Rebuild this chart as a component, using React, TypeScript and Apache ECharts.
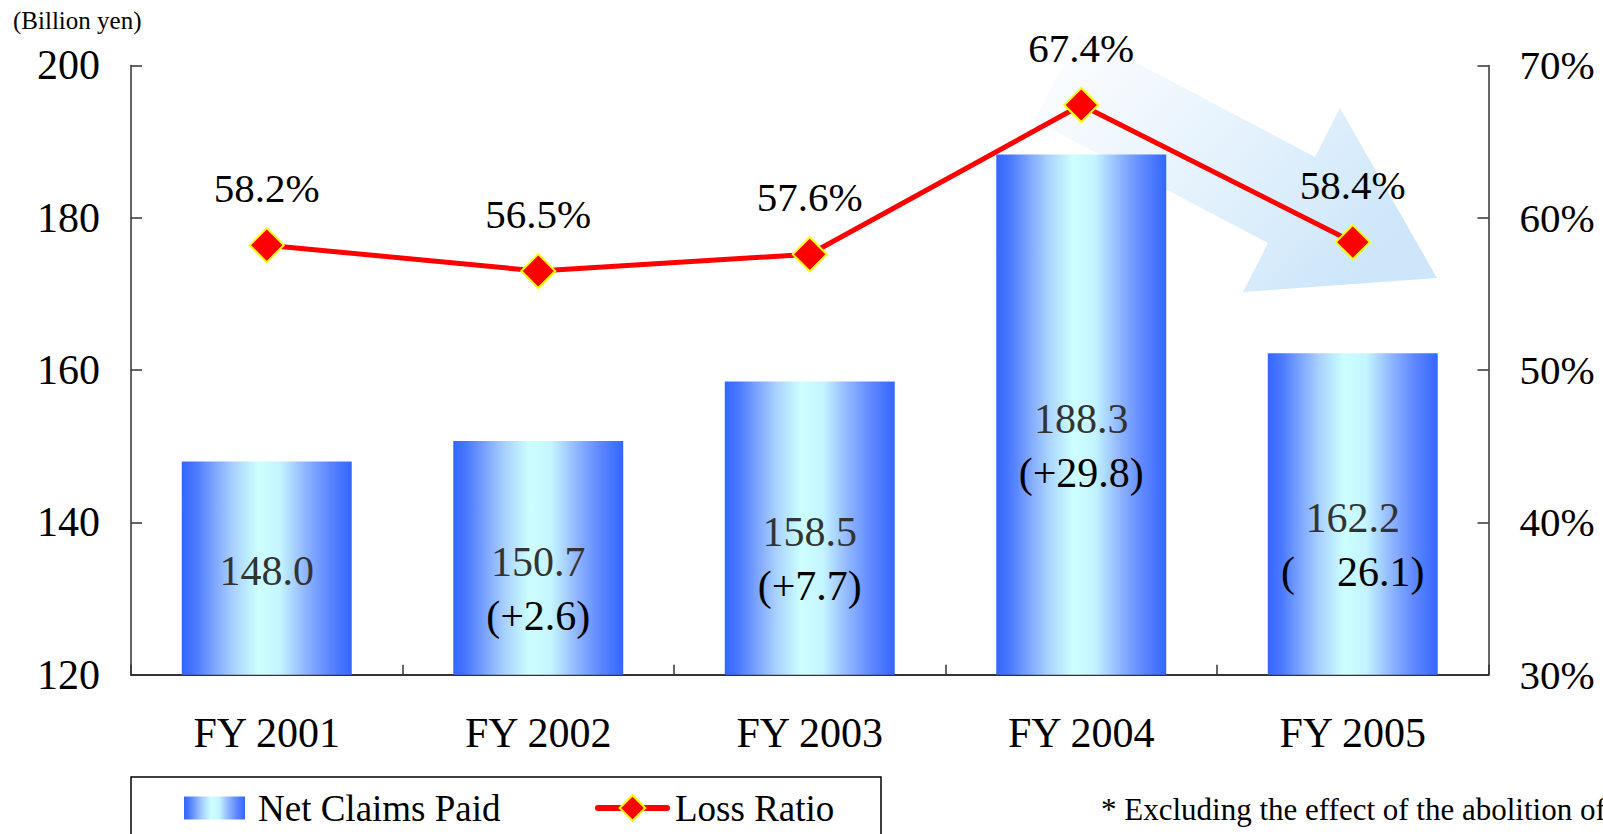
import React, { useEffect, useRef } from "react";
import * as echarts from "echarts";

const categories = ["FY 2001", "FY 2002", "FY 2003", "FY 2004", "FY 2005"];
const netClaimsPaid = [148.0, 150.7, 158.5, 188.3, 162.2];
const changeLabels = ["", "(+2.6)", "(+7.7)", "(+29.8)", "(\u00a0\u00a0\u00a0\u00a026.1)"];
const lossRatio = [58.2, 56.5, 57.6, 67.4, 58.4];
const leftAxis = { min: 120, max: 200, interval: 20 };
const rightAxis = { min: 30, max: 70, interval: 10 };
const unitLabel = "(Billion yen)";
const footnote = "* Excluding the effect of the abolition of";

const FONT = '"Liberation Serif", "Times New Roman", serif';

export default function App() {
  const ref = useRef<HTMLDivElement>(null);

  useEffect(() => {
    if (!ref.current) return;
    const chart = echarts.init(ref.current, null, { renderer: "svg" });

    const barGradient = {
      type: "linear",
      x: 0,
      y: 0,
      x2: 1,
      y2: 0,
      colorStops: [
        { offset: 0, color: "#3366ff" },
        { offset: 0.08, color: "#4a78ff" },
        { offset: 0.18, color: "#77a0ff" },
        { offset: 0.3, color: "#a8d0ff" },
        { offset: 0.45, color: "#ccffff" },
        { offset: 0.58, color: "#c4f4ff" },
        { offset: 0.72, color: "#92b8ff" },
        { offset: 0.86, color: "#5f88ff" },
        { offset: 1, color: "#3366ff" },
      ],
    };

    const legendText = {
      fontFamily: FONT,
      fontSize: 37,
      lineHeight: 40,
      color: "#000",
    };

    const option: any = {
      animation: false,
      backgroundColor: "#ffffff",
      grid: {
        left: 131,
        right: 114.5,
        top: 65.4,
        bottom: 159.3,
        containLabel: false,
        outerBoundsMode: "none",
      },
      legend: [
        {
          left: 184,
          top: 788,
          padding: 0,
          itemWidth: 61,
          itemHeight: 23,
          textStyle: { ...legendText, padding: [0, 0, 0, 8] },
          data: [{ name: "Net Claims Paid", icon: "rect" }],
        },
        {
          left: 595,
          top: 788,
          padding: 0,
          itemWidth: 69,
          itemHeight: 32,
          lineStyle: { width: 6, color: "#ff0000", cap: "round" },
          textStyle: { ...legendText, padding: [0, 0, 0, 3] },
          data: [{ name: "Loss Ratio" }],
        },
      ],
      xAxis: {
        type: "category",
        data: categories,
        boundaryGap: true,
        axisLine: { show: true, lineStyle: { color: "#333", width: 2 } },
        axisTick: { show: true, inside: true, length: 10, lineStyle: { color: "#333", width: 1.5 } },
        axisLabel: { fontFamily: FONT, fontSize: 42, color: "#000", margin: 37 },
        splitLine: { show: false },
      },
      yAxis: [
        {
          type: "value",
          position: "left",
          min: leftAxis.min,
          max: leftAxis.max,
          interval: leftAxis.interval,
          axisLine: { show: true, lineStyle: { color: "#333", width: 1.5 } },
          axisTick: { show: true, inside: true, length: 11, lineStyle: { color: "#333", width: 1.5 } },
          axisLabel: { fontFamily: FONT, fontSize: 42, color: "#000", margin: 31 },
          splitLine: { show: false },
        },
        {
          type: "value",
          position: "right",
          min: rightAxis.min,
          max: rightAxis.max,
          interval: rightAxis.interval,
          axisLine: { show: true, lineStyle: { color: "#333", width: 1.5 } },
          axisTick: { show: true, inside: true, length: 11, lineStyle: { color: "#333", width: 1.5 } },
          axisLabel: { fontFamily: FONT, fontSize: 41, color: "#000", margin: 31, formatter: "{value}%" },
          splitLine: { show: false },
        },
      ],
      graphic: [
        {
          type: "polygon",
          z: -10,
          shape: {
            points: [
              [1080, 33],
              [1315, 157],
              [1340, 108],
              [1437, 278],
              [1243, 292],
              [1268, 243],
              [1034, 120],
            ],
          },
          style: {
            fill: {
              type: "linear",
              x: 0,
              y: 0,
              x2: 1,
              y2: 0.6,
              colorStops: [
                { offset: 0, color: "#ffffff" },
                { offset: 0.25, color: "#f4f9fe" },
                { offset: 0.6, color: "#e2f1fc" },
                { offset: 1, color: "#cde6fa" },
              ],
            },
            stroke: "none",
          },
        },
        {
          type: "text",
          x: 13,
          y: 8,
          style: { text: unitLabel, fontFamily: FONT, fontSize: 25, fill: "#000" },
        },
        {
          type: "text",
          x: 1101,
          y: 794,
          style: { text: footnote, fontFamily: FONT, fontSize: 31, fill: "#000" },
        },
        {
          type: "rect",
          shape: { x: 131, y: 777, width: 750, height: 80 },
          style: { fill: "none", stroke: "#000", lineWidth: 1.5 },
        },
      ],
      series: [
        {
          name: "Net Claims Paid",
          type: "bar",
          yAxisIndex: 0,
          barWidth: "62.6%",
          itemStyle: { color: barGradient },
          data: netClaimsPaid.map((v, i) => ({
            value: v,
            label: { offset: [0, changeLabels[i] ? 31 : 3] },
          })),
          label: {
            show: true,
            position: "inside",
            formatter: (p: any) => {
              const c = changeLabels[p.dataIndex];
              const v = Number(p.value).toFixed(1);
              return c ? `{v|${v}}\n{c|${c}}` : `{v|${v}}`;
            },
            rich: {
              v: { fontFamily: FONT, fontSize: 42, color: "#333", lineHeight: 54 },
              c: { fontFamily: FONT, fontSize: 42, color: "#000", lineHeight: 54 },
            },
          },
          z: 2,
        },
        {
          name: "Loss Ratio",
          type: "line",
          yAxisIndex: 1,
          data: lossRatio,
          symbol: "diamond",
          symbolSize: 34,
          lineStyle: { color: "#ff0000", width: 5 },
          itemStyle: { color: "#ff0000", borderColor: "#ffff00", borderWidth: 2 },
          label: {
            show: true,
            position: "top",
            distance: 19,
            formatter: (p: any) => `${Number(p.value).toFixed(1)}%`,
            fontFamily: FONT,
            fontSize: 41,
            color: "#000",
          },
          z: 3,
        },
      ],
    };

    chart.setOption(option);
    return () => chart.dispose();
  }, []);

  return (
    <div
      ref={ref}
      style={{ position: "fixed", left: 0, top: 0, width: 1603, height: 834, background: "#fff" }}
    />
  );
}
